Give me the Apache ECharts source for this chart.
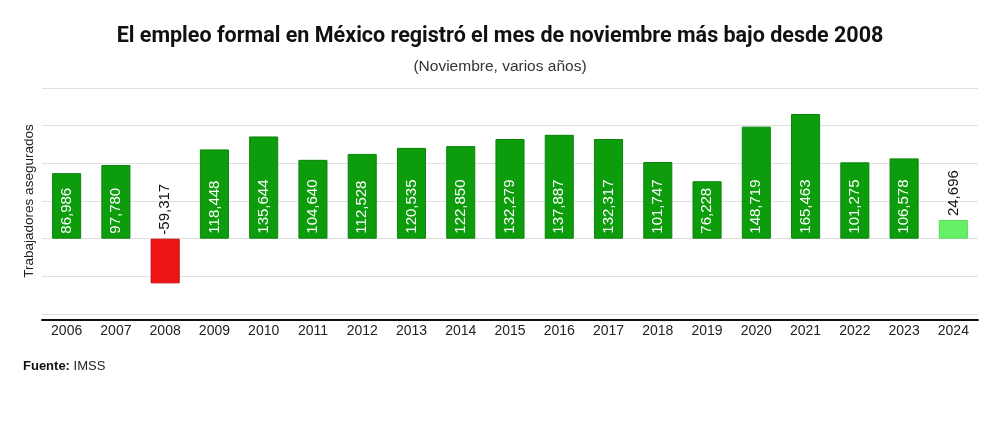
<!DOCTYPE html>
<html>
<head>
<meta charset="utf-8">
<script src="https://cdn.jsdelivr.net/npm/echarts@6/dist/echarts.min.js"></script>
<style>
html,body{margin:0;padding:0;background:#fff;}
#chart{width:1000px;height:431px;}
</style>
</head>
<body>
<div id="chart"></div>
<script>
const years = ['2006','2007','2008','2009','2010','2011','2012','2013','2014','2015','2016','2017','2018','2019','2020','2021','2022','2023','2024'];
const values = [86986, 97780, -59317, 118448, 135644, 104640, 112528, 120535, 122850, 132279, 137887, 132317, 101747, 76228, 148719, 165463, 101275, 106578, 24696];
const titleText = 'El empleo formal en México registró el mes de noviembre más bajo desde 2008';
const subtitleText = '(Noviembre, varios años)';
const axisName = 'Trabajadores asegurados';
const sourceLabel = 'Fuente:';
const sourceText = 'IMSS';

const fontFamily = 'Liberation Sans, Arial, sans-serif';
const fmt = v => v.toLocaleString('en-US');

const data = values.map((v, i) => {
  const isNeg = v < 0;
  const isLast = i === values.length - 1;
  const color = isNeg ? '#ee1515' : (isLast ? '#66f066' : '#0c9c0c');
  const border = isNeg ? '#c20d0d' : (isLast ? '#55dd55' : '#0a840a');
  const outside = isNeg || isLast;
  return {
    value: v,
    itemStyle: { color: color, borderColor: border, borderWidth: 1 },
    label: {
      show: true,
      position: outside ? 'top' : 'insideBottom',
      distance: outside ? 4 : 5,
      rotate: 90,
      align: 'left',
      verticalAlign: 'middle',
      color: outside ? '#111' : '#fff',
      fontSize: 15,
      fontFamily: fontFamily,
      formatter: () => fmt(v)
    }
  };
});

const chart = echarts.init(document.getElementById('chart'), null, { renderer: 'canvas' });
chart.setOption({
  backgroundColor: '#fff',
  animation: false,
  title: [
    {
      text: titleText,
      left: 'center',
      top: 21,
      textStyle: { fontFamily: 'Roboto, sans-serif', fontWeight: 'bold', fontSize: 21.5, color: '#111' }
    },
    {
      text: subtitleText,
      left: 'center',
      top: 54,
      textStyle: { fontFamily: fontFamily, fontWeight: 'normal', fontSize: 15.5, color: '#333' }
    },
    {
      text: '{b|' + sourceLabel + '}{n| ' + sourceText + '}',
      left: 18,
      top: 355,
      textStyle: {
        rich: {
          b: { fontFamily: fontFamily, fontWeight: 'bold', fontSize: 13, color: '#111' },
          n: { fontFamily: fontFamily, fontWeight: 'normal', fontSize: 13, color: '#222' }
        }
      }
    }
  ],
  grid: { left: 42, right: 22, top: 88, bottom: 117 },
  xAxis: {
    type: 'category',
    data: years,
    offset: 6,
    axisLine: { show: true, onZero: false, lineStyle: { color: '#111', width: 2 } },
    axisTick: { show: false },
    axisLabel: { color: '#222', fontSize: 14, fontFamily: fontFamily, margin: 4 },
    splitLine: { show: false }
  },
  yAxis: {
    type: 'value',
    min: -100000,
    max: 200000,
    interval: 50000,
    name: axisName,
    nameLocation: 'middle',
    nameGap: 6,
    nameTextStyle: { color: '#222', fontSize: 13.5, fontFamily: fontFamily },
    axisLine: { show: false },
    axisTick: { show: false },
    axisLabel: { show: false },
    splitLine: { show: true, lineStyle: { color: '#e0e0e0', width: 1 } }
  },
  series: [{
    type: 'bar',
    data: data,
    barWidth: '59%'
  }]
});
</script>
</body>
</html>
